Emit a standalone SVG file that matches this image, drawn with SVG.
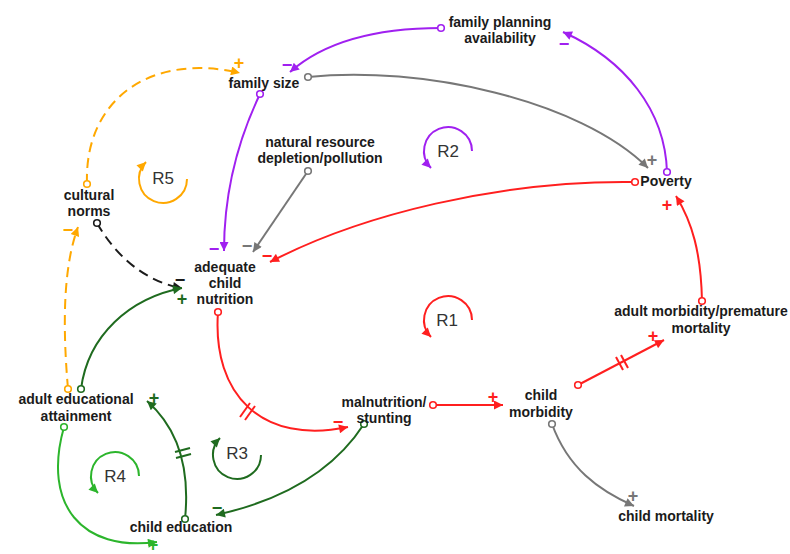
<svg xmlns="http://www.w3.org/2000/svg" width="790" height="554" viewBox="0 0 790 554">
  <style>
    .node text { font-family: "Liberation Sans", Arial, sans-serif; font-weight: bold; font-size: 14px; fill: #1b1b1b; text-anchor: middle; }
    .link { fill: none; stroke-width: 2; }
    .dash { stroke-dasharray: 10 6; }
    .sign { font-family: "Liberation Sans", Arial, sans-serif; font-weight: bold; font-size: 18px; text-anchor: middle; }
    .loop { fill: none; stroke-width: 2; }
    .loop-label { font-family: "Liberation Sans", Arial, sans-serif; font-size: 17px; fill: #333; text-anchor: middle; }
    .delay { stroke-width: 2; fill: none; }
    .red { stroke: #ff1f1f; } .t-red { fill: #ff1f1f; }
    .purple { stroke: #a020f0; } .t-purple { fill: #a020f0; }
    .gray { stroke: #777; } .t-gray { fill: #777; }
    .orange { stroke: #ffa800; } .t-orange { fill: #ffa800; }
    .dgreen { stroke: #1f6b1f; } .t-dgreen { fill: #1f6b1f; }
    .lgreen { stroke: #2cb52c; } .t-lgreen { fill: #2cb52c; }
    .black { stroke: #1b1b1b; } .t-black { fill: #1b1b1b; }
  </style>
  <defs>
    <marker id="ah-red" viewBox="0 0 10 10" refX="10" refY="5" markerWidth="11" markerHeight="9" markerUnits="userSpaceOnUse" orient="auto"><path d="M0,0 L10,5 L0,10 z" fill="#ff1f1f"/></marker>
    <marker id="ah-purple" viewBox="0 0 10 10" refX="10" refY="5" markerWidth="11" markerHeight="9" markerUnits="userSpaceOnUse" orient="auto"><path d="M0,0 L10,5 L0,10 z" fill="#a020f0"/></marker>
    <marker id="ah-gray" viewBox="0 0 10 10" refX="10" refY="5" markerWidth="11" markerHeight="9" markerUnits="userSpaceOnUse" orient="auto"><path d="M0,0 L10,5 L0,10 z" fill="#777"/></marker>
    <marker id="ah-orange" viewBox="0 0 10 10" refX="10" refY="5" markerWidth="11" markerHeight="9" markerUnits="userSpaceOnUse" orient="auto"><path d="M0,0 L10,5 L0,10 z" fill="#ffa800"/></marker>
    <marker id="ah-dgreen" viewBox="0 0 10 10" refX="10" refY="5" markerWidth="11" markerHeight="9" markerUnits="userSpaceOnUse" orient="auto"><path d="M0,0 L10,5 L0,10 z" fill="#1f6b1f"/></marker>
    <marker id="ah-lgreen" viewBox="0 0 10 10" refX="10" refY="5" markerWidth="11" markerHeight="9" markerUnits="userSpaceOnUse" orient="auto"><path d="M0,0 L10,5 L0,10 z" fill="#2cb52c"/></marker>
    <marker id="ah-black" viewBox="0 0 10 10" refX="10" refY="5" markerWidth="11" markerHeight="9" markerUnits="userSpaceOnUse" orient="auto"><path d="M0,0 L10,5 L0,10 z" fill="#1b1b1b"/></marker>

    <marker id="o-red" viewBox="-5 -5 10 10" refX="0" refY="0" markerWidth="10" markerHeight="10" markerUnits="userSpaceOnUse"><circle r="3.3" fill="#fff" stroke="#ff1f1f" stroke-width="1.6"/></marker>
    <marker id="o-purple" viewBox="-5 -5 10 10" refX="0" refY="0" markerWidth="10" markerHeight="10" markerUnits="userSpaceOnUse"><circle r="3.3" fill="#fff" stroke="#a020f0" stroke-width="1.6"/></marker>
    <marker id="o-gray" viewBox="-5 -5 10 10" refX="0" refY="0" markerWidth="10" markerHeight="10" markerUnits="userSpaceOnUse"><circle r="3.3" fill="#fff" stroke="#777" stroke-width="1.6"/></marker>
    <marker id="o-orange" viewBox="-5 -5 10 10" refX="0" refY="0" markerWidth="10" markerHeight="10" markerUnits="userSpaceOnUse"><circle r="3.3" fill="#fff" stroke="#ffa800" stroke-width="1.6"/></marker>
    <marker id="o-dgreen" viewBox="-5 -5 10 10" refX="0" refY="0" markerWidth="10" markerHeight="10" markerUnits="userSpaceOnUse"><circle r="3.3" fill="#fff" stroke="#1f6b1f" stroke-width="1.6"/></marker>
    <marker id="o-lgreen" viewBox="-5 -5 10 10" refX="0" refY="0" markerWidth="10" markerHeight="10" markerUnits="userSpaceOnUse"><circle r="3.3" fill="#fff" stroke="#2cb52c" stroke-width="1.6"/></marker>
    <marker id="o-black" viewBox="-5 -5 10 10" refX="0" refY="0" markerWidth="10" markerHeight="10" markerUnits="userSpaceOnUse"><circle r="3.3" fill="#fff" stroke="#1b1b1b" stroke-width="1.6"/></marker>
  </defs>

  <rect width="790" height="554" fill="#fff"/>

  <!-- causal links -->
  <g id="connectors">
    <!-- family planning availability -> family size -->
    <path class="link purple" d="M441,28 Q340,28 290,72" marker-start="url(#o-purple)" marker-end="url(#ah-purple)"/>
    <!-- family size -> Poverty -->
    <path class="link gray" d="M308,77 C420,65 580,100 648,168" marker-start="url(#o-gray)" marker-end="url(#ah-gray)"/>
    <!-- Poverty -> family planning availability -->
    <path class="link purple" d="M667,172 C665,110 625,60 563,32" marker-start="url(#o-purple)" marker-end="url(#ah-purple)"/>
    <!-- family size -> adequate child nutrition -->
    <path class="link purple" d="M260,94 C238,140 224,190 224,251" marker-start="url(#o-purple)" marker-end="url(#ah-purple)"/>
    <!-- natural resource depletion -> adequate child nutrition -->
    <path class="link gray" d="M308,171 Q285,205 253,252" marker-start="url(#o-gray)" marker-end="url(#ah-gray)"/>
    <!-- Poverty -> adequate child nutrition -->
    <path class="link red" d="M635,182 C500,180 360,215 270,262" marker-start="url(#o-red)" marker-end="url(#ah-red)"/>
    <!-- cultural norms -> family size -->
    <path class="link orange dash" d="M87,184 C84,100 150,52 240,73" marker-start="url(#o-orange)" marker-end="url(#ah-orange)"/>
    <!-- adult educational attainment -> cultural norms -->
    <path class="link orange dash" d="M68,389 C62,320 64,265 78,227" marker-start="url(#o-orange)" marker-end="url(#ah-orange)"/>
    <!-- cultural norms -> adequate child nutrition -->
    <path class="link black dash" d="M97,223 C115,255 145,282 182,288" marker-start="url(#o-black)" marker-end="url(#ah-black)"/>
    <!-- adult educational attainment -> adequate child nutrition -->
    <path class="link dgreen" d="M81,389 C88,335 130,298 182,288" marker-start="url(#o-dgreen)" marker-end="url(#ah-dgreen)"/>
    <!-- adequate child nutrition -> malnutrition/stunting -->
    <path class="link red" d="M218,312 C212,395 262,445 348,427" marker-start="url(#o-red)" marker-end="url(#ah-red)"/>
    <!-- malnutrition/stunting -> child morbidity -->
    <path class="link red" d="M433,405 L503,405" marker-start="url(#o-red)" marker-end="url(#ah-red)"/>
    <!-- malnutrition/stunting -> child education -->
    <path class="link dgreen" d="M364,424 Q320,492 216,515" marker-start="url(#o-dgreen)" marker-end="url(#ah-dgreen)"/>
    <!-- child education -> adult educational attainment -->
    <path class="link dgreen" d="M185,519 C190,470 180,430 147,401" marker-start="url(#o-dgreen)" marker-end="url(#ah-dgreen)"/>
    <!-- adult educational attainment -> child education -->
    <path class="link lgreen" d="M64,427 C42,505 82,552 157,542" marker-start="url(#o-lgreen)" marker-end="url(#ah-lgreen)"/>
    <!-- child morbidity -> adult morbidity/premature mortality -->
    <path class="link red" d="M578,385 L664,340" marker-start="url(#o-red)" marker-end="url(#ah-red)"/>
    <!-- adult morbidity/premature mortality -> Poverty -->
    <path class="link red" d="M702,301 C701,252 692,222 676,196" marker-start="url(#o-red)" marker-end="url(#ah-red)"/>
    <!-- child morbidity -> child mortality -->
    <path class="link gray" d="M552,424 C568,468 598,490 634,506" marker-start="url(#o-gray)" marker-end="url(#ah-gray)"/>

    <!-- delay marks -->
    <g class="delay red">
      <line x1="240" y1="417" x2="250" y2="403"/>
      <line x1="245" y1="420" x2="255" y2="406"/>
    </g>
    <g class="delay dgreen">
      <line x1="175" y1="452" x2="190" y2="448"/>
      <line x1="176" y1="458" x2="191" y2="454"/>
    </g>
    <g class="delay red">
      <line x1="616" y1="357" x2="623" y2="370"/>
      <line x1="621" y1="355" x2="628" y2="368"/>
    </g>

    <!-- polarity signs -->
    <text class="sign t-purple" x="287" y="71">−</text>
    <text class="sign t-gray" x="652" y="166">+</text>
    <text class="sign t-purple" x="564" y="50">−</text>
    <text class="sign t-purple" x="214" y="255">−</text>
    <text class="sign t-gray" x="247" y="252">−</text>
    <text class="sign t-red" x="267" y="262">−</text>
    <text class="sign t-orange" x="239" y="69">+</text>
    <text class="sign t-orange" x="68" y="236">−</text>
    <text class="sign t-black" x="180" y="286">−</text>
    <text class="sign t-dgreen" x="182" y="305">+</text>
    <text class="sign t-red" x="338" y="428">−</text>
    <text class="sign t-red" x="493" y="403">+</text>
    <text class="sign t-dgreen" x="217" y="514">−</text>
    <text class="sign t-dgreen" x="154" y="404">+</text>
    <text class="sign t-lgreen" x="153" y="551" font-size="13">+</text>
    <text class="sign t-red" x="653" y="342">+</text>
    <text class="sign t-red" x="667" y="211">+</text>
    <text class="sign t-gray" x="633" y="502">+</text>
  </g>

  <!-- loop markers -->
  <g id="loops">
    <g id="loop-R1">
      <path class="loop red" d="M472,320 A24,24 0 1 0 431,337" marker-end="url(#ah-red)"/>
      <text class="loop-label" x="447" y="326">R1</text>
    </g>
    <g id="loop-R2">
      <path class="loop purple" d="M472,151 A24,24 0 1 0 431,168" marker-end="url(#ah-purple)"/>
      <text class="loop-label" x="448" y="157">R2</text>
    </g>
    <g id="loop-R3">
      <path class="loop dgreen" d="M261,455 A24,24 0 1 1 220,438" marker-end="url(#ah-dgreen)"/>
      <text class="loop-label" x="237" y="459">R3</text>
    </g>
    <g id="loop-R4">
      <path class="loop lgreen" d="M139,476 A24,24 0 1 0 98,493" marker-end="url(#ah-lgreen)"/>
      <text class="loop-label" x="115" y="482">R4</text>
    </g>
    <g id="loop-R5">
      <path class="loop orange" d="M187,179 A24,24 0 1 1 146,162" marker-end="url(#ah-orange)"/>
      <text class="loop-label" x="163" y="184">R5</text>
    </g>
  </g>

  <!-- variables -->
  <g id="family-planning-availability" class="node"><text x="500" y="27">family planning</text><text x="500" y="43">availability</text></g>
  <g id="family-size" class="node"><text x="264" y="88">family size</text></g>
  <g id="natural-resource-depletion" class="node"><text x="320" y="147">natural resource</text><text x="320" y="163">depletion/pollution</text></g>
  <g id="poverty" class="node"><text x="666" y="186">Poverty</text></g>
  <g id="cultural-norms" class="node"><text x="89" y="200">cultural</text><text x="89" y="216">norms</text></g>
  <g id="adequate-child-nutrition" class="node"><text x="225" y="272">adequate</text><text x="225" y="288">child</text><text x="225" y="304">nutrition</text></g>
  <g id="adult-morbidity" class="node"><text x="701" y="316">adult morbidity/premature</text><text x="701" y="333">mortality</text></g>
  <g id="malnutrition-stunting" class="node"><text x="384" y="407">malnutrition/</text><text x="384" y="423">stunting</text></g>
  <g id="child-morbidity" class="node"><text x="541" y="400">child</text><text x="541" y="417">morbidity</text></g>
  <g id="child-mortality" class="node"><text x="666" y="521">child mortality</text></g>
  <g id="adult-educational-attainment" class="node"><text x="76" y="404">adult educational</text><text x="76" y="421">attainment</text></g>
  <g id="child-education" class="node"><text x="181" y="532">child education</text></g>
</svg>
